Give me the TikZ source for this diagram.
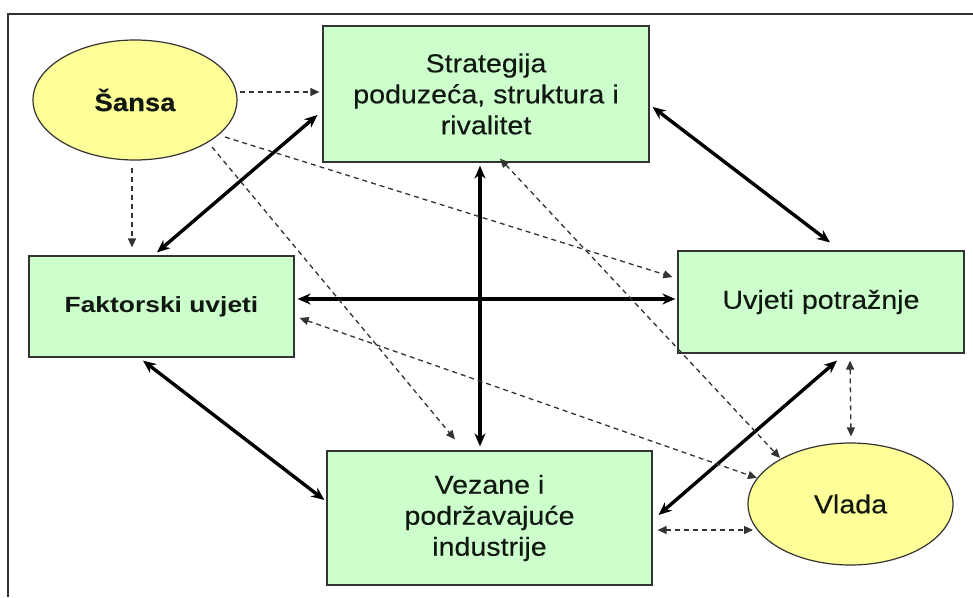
\documentclass[tikz,border=0pt]{standalone}
\usepackage{fontspec}
\setmainfont{Liberation Sans}[FakeStretch=1.1,FakeBold=0.3]
\newfontfamily\widebold{Liberation Sans}[FakeStretch=1.2]
\usetikzlibrary{arrows.meta,shapes.geometric}
\definecolor{boxgreen}{HTML}{CCFFCC}
\definecolor{ellyellow}{HTML}{FFFF99}
\definecolor{edgegray}{HTML}{333333}
\definecolor{txt}{HTML}{111811}
\tikzset{
  box/.style={draw=edgegray, line width=1.2pt, fill=boxgreen, inner sep=0pt, align=center,
    text=txt, font=\fontsize{26}{31}\selectfont},
  oval/.style={ellipse, draw=edgegray, line width=1.2pt, fill=ellyellow, inner sep=0pt,
    text=txt, font=\fontsize{26}{31}\selectfont},
  thick2/.style={line width=3.4pt, {Stealth[length=13pt,width=11pt]}-{Stealth[length=13pt,width=11pt]}},
  dash1/.style={line width=1.3pt, dash pattern=on 5pt off 4pt, color=edgegray, -{Triangle[length=9pt,width=8pt]}},
  dash2/.style={line width=1.3pt, dash pattern=on 5pt off 4pt, color=edgegray, {Triangle[length=9pt,width=8pt]}-{Triangle[length=9pt,width=8pt]}},
}
\begin{document}
\begin{tikzpicture}[x=1pt,y=-1pt]
\useasboundingbox (0,0) rectangle (973,597);
\fill[white] (0,0) rectangle (973,597);
\draw[line width=1.6pt, color=edgegray] (8,597) -- (8,14) -- (973,14);

\node[box, minimum width=326pt, minimum height=136pt] (strat) at (486,94)
  {Strategija\\poduzeća, struktura i\\rivalitet};
\node[box, minimum width=265pt, minimum height=101pt] (fakt) at (161.5,306.5)
  {\widebold\fontsize{22}{26}\selectfont\bfseries Faktorski uvjeti};
\node[box, minimum width=286pt, minimum height=102pt] (uvj) at (821,302)
  {Uvjeti potražnje};
\node[box, minimum width=325pt, minimum height=134pt] (vez) at (489.5,518)
  {Vezane i\\podržavajuće\\industrije};
\node[oval, minimum width=204pt, minimum height=120pt] (sansa) at (135,100)
  {\fontsize{25}{30}\selectfont\bfseries Šansa};
\node[oval, minimum width=205pt, minimum height=122pt] (vlada) at (850.5,504)
  {Vlada};

% thick double arrows
\draw[thick2] ([xshift=-4.5pt,yshift=3pt]fakt.north) -- ([xshift=-5pt,yshift=-21pt]strat.west);
\draw[thick2] ([xshift=3pt,yshift=-13pt]strat.east) -- ([xshift=9pt,yshift=8pt]uvj.north);
\draw[thick2] ([xshift=3pt,yshift=7.5pt]fakt.east) -- ([xshift=-2pt,yshift=3pt]uvj.west);
\draw[thick2] ([xshift=-6pt,yshift=-3pt]strat.south) -- ([xshift=-9.5pt,yshift=4pt]vez.north);
\draw[thick2] ([xshift=-18.5pt,yshift=-3pt]fakt.south) -- ([xshift=-2pt,yshift=18pt]vez.west);
\draw[thick2] ([xshift=6pt,yshift=3pt]vez.east) -- ([xshift=16pt,yshift=-7pt]uvj.south);

% dashed arrows
\draw[dash1] ([xshift=2pt,yshift=8pt]sansa.east) -- ([xshift=-3pt,yshift=2pt]strat.west);
\draw[dash1] ([xshift=-3pt,yshift=-7pt]sansa.south) -- ([xshift=-29.5pt,yshift=8pt]fakt.north);
\draw[dash1] ([xshift=90pt,yshift=-37pt]sansa.center) -- ([xshift=-5pt,yshift=25pt]uvj.west);
\draw[dash1] ([xshift=77pt,yshift=-47pt]sansa.center) -- ([xshift=-34.5pt,yshift=11pt]vez.north);
\draw[dash2] ([xshift=14pt,yshift=4pt]strat.south) -- ([xshift=-70.5pt,yshift=46pt]vlada.center);
\draw[dash2] ([xshift=5pt,yshift=-11.5pt]fakt.east) -- ([xshift=-93.5pt,yshift=26pt]vlada.center);
\draw[dash2] ([xshift=29pt,yshift=-7pt]uvj.south) -- ([xshift=0.5pt,yshift=6pt]vlada.north);
\draw[dash2] ([xshift=5pt,yshift=-12pt]vez.east) -- ([xshift=-97.5pt,yshift=-26pt]vlada.center);
\end{tikzpicture}
\end{document}
